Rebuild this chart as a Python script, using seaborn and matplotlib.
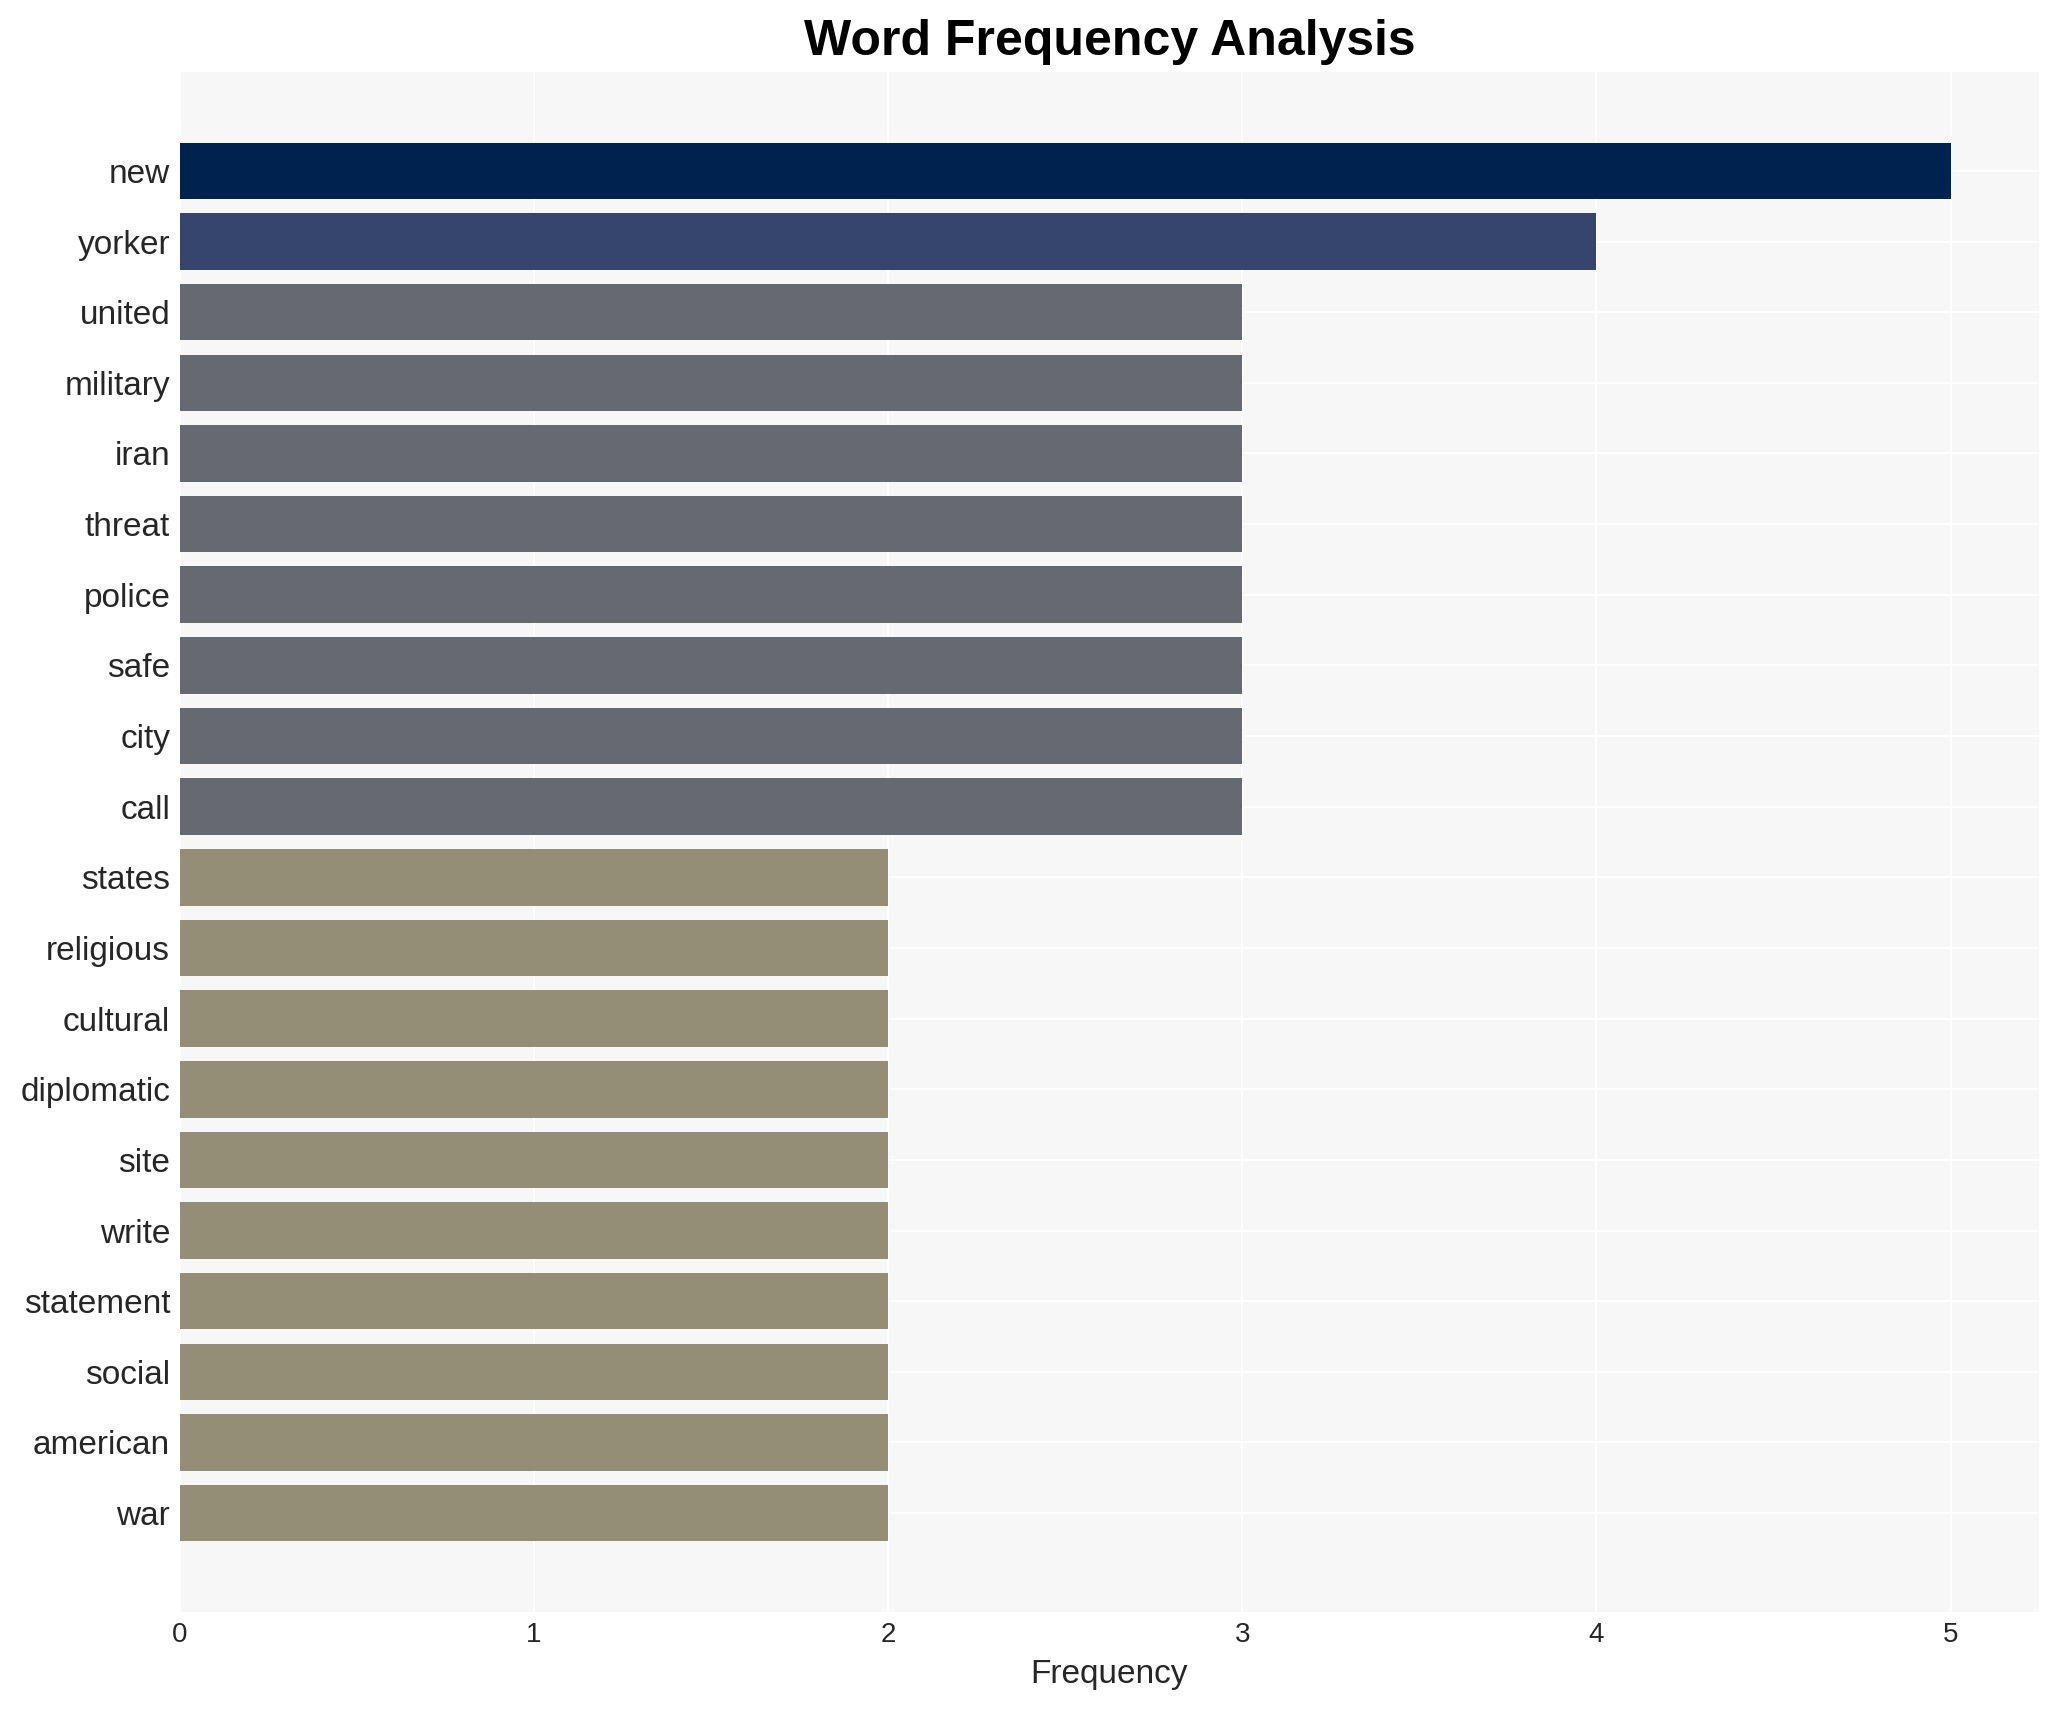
import matplotlib
matplotlib.use("Agg")
import matplotlib.pyplot as plt
import seaborn as sns
import pandas as pd

words = ["new", "yorker", "united", "military", "iran", "threat", "police", "safe",
         "city", "call", "states", "religious", "cultural", "diplomatic", "site",
         "write", "statement", "social", "american", "war"]
counts = [5, 4, 3, 3, 3, 3, 3, 3, 3, 3, 2, 2, 2, 2, 2, 2, 2, 2, 2, 2]

# colour per frequency level
level_colors = {5: "#00224e", 4: "#35456c", 3: "#666970", 2: "#948e77"}

df = pd.DataFrame({"word": words, "count": counts})
bar_colors = [level_colors[c] for c in counts]

sns.set_style("whitegrid")
plt.rcParams["font.family"] = ["Liberation Sans", "DejaVu Sans"]

fig = plt.figure(figsize=(10.295, 8.55), dpi=200)
ax = fig.add_axes([0.0874, 0.0573, 0.9029, 0.9006])
sns.barplot(data=df, x="count", y="word", hue="word", palette=bar_colors,
            legend=False, width=0.8, saturation=1, linewidth=0, ax=ax)

ax.set_facecolor("#f7f7f7")
ax.grid(True, color="white", linewidth=0.8)
ax.set_axisbelow(True)
for s in ax.spines.values():
    s.set_visible(False)
ax.set_xlim(0, 5.25)
ax.set_ylim(len(words) - 1 + 1.4, -1.4)
ax.set_xticks([0, 1, 2, 3, 4, 5])
ax.tick_params(axis="x", labelsize=10, colors="#262626", length=0)
ax.tick_params(axis="y", labelsize=12, colors="#262626", length=0)
ax.set_xlabel("Frequency", fontsize=12, color="#262626")
ax.set_ylabel("")
ax.set_title("Word Frequency Analysis", fontsize=18, fontweight="bold", color="black")

fig.savefig("out.png", dpi=200)
